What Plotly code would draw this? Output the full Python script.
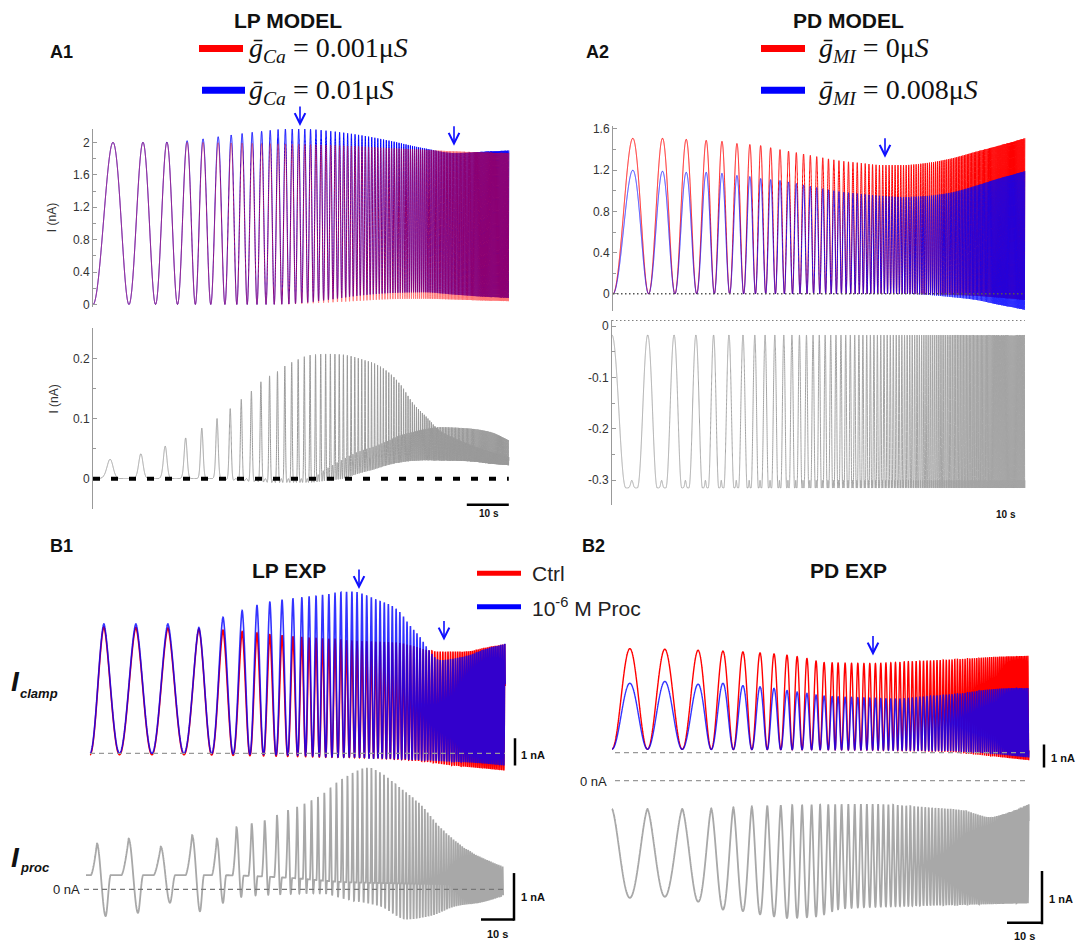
import numpy as np
import plotly.graph_objects as go

W, H = 1082, 945
SANS = "Arial, 'Liberation Sans', sans-serif"
SERIF = "'Liberation Serif', 'Times New Roman', 'DejaVu Serif', serif"

# ------------------------------------------------------------------
# Data
# ------------------------------------------------------------------
# Model stimulus (panels A1, A2): cumulative cycle count at knot times (s)
MODEL_T = [0, 4.76, 11.9, 17.6, 22.4, 26.2, 29.8, 32.9, 35.5, 42, 50, 58, 65, 72, 80, 90, 99]
MODEL_N = [0, 0.5, 1.5, 2.5, 3.5, 4.5, 5.5, 6.5, 7.5, 10.4, 15.2, 21.8, 29.7, 40.0, 56.0, 84.7, 122.5]
MODEL_DUR = 99.0

# A1 top: LP model clamp current (nA), peak / trough envelopes
A1_T = [0, 4.7, 17.6, 22.3, 29.8, 35.6, 40.6, 46.5, 50.1, 56.4, 63.6, 70.7, 78.6, 86.2, 94.5, 99]
A1_BLUE_PEAK = [2.0, 2.0, 2.005, 2.02, 2.07, 2.11, 2.14, 2.166, 2.166, 2.14, 2.09, 2.02, 1.93, 1.87, 1.89, 1.9]
A1_RED_PEAK = [2.0, 2.0, 2.0, 2.0, 1.995, 1.99, 1.985, 1.98, 1.975, 1.965, 1.95, 1.93, 1.91, 1.89, 1.875, 1.87]
A1_BLUE_TROUGH = [0, 0, 0, 0, 0, 0, 0, 0.005, 0.02, 0.06, 0.11, 0.14, 0.15, 0.12, 0.09, 0.08]
A1_RED_TROUGH = [0, 0, 0, 0, 0, 0, 0, 0.002, 0.01, 0.025, 0.045, 0.065, 0.07, 0.06, 0.045, 0.04]

# A1 bottom: difference current (nA)
A1B_T = [0, 3.65, 11.2, 17.1, 22.1, 26.1, 29.7, 32.9, 35.6, 38.2, 40.4, 42.7, 44.7, 46.3, 48.1,
         49.8, 51.7, 55.2, 59.2, 61.6, 64, 66.7, 69.9, 73.1, 76.3, 79.4, 82.6, 86.6, 90.5, 94.5, 99]
A1B_PEAK1 = [0.03, 0.032, 0.041, 0.054, 0.068, 0.085, 0.101, 0.118, 0.134, 0.149, 0.164, 0.174, 0.182, 0.191, 0.196,
             0.202, 0.206, 0.208, 0.207, 0.204, 0.199, 0.193, 0.18, 0.158, 0.125, 0.103, 0.08, 0.066, 0.055, 0.045, 0.036]
A1B_PEAK2 = [0, 0, 0, 0, 0, 0, 0, 0, 0, 0, 0, 0, 0, 0, 0,
             0, 0, 0.015, 0.031, 0.04, 0.047, 0.053, 0.062, 0.072, 0.078, 0.083, 0.086, 0.085, 0.083, 0.078, 0.064]
A1B_BASE = [0, 0, 0, 0, 0, 0, 0, -0.003, -0.005, -0.006, -0.007, -0.008, -0.008, -0.008, -0.008,
            -0.008, -0.008, -0.007, -0.005, 0, 0.005, 0.01, 0.017, 0.022, 0.025, 0.026, 0.026, 0.026, 0.025, 0.022, 0.02]

# A2 top: PD model clamp current (nA)
A2_T = [0, 4.4, 11.8, 17.5, 22.1, 26.1, 29.5, 32.6, 35.3, 37.7, 40.1, 44.2, 49.2, 54.8, 59.5, 64.6, 69.8,
        75.4, 80.9, 87.3, 92, 99]
A2_RED_PEAK = [1.51, 1.51, 1.51, 1.50, 1.49, 1.48, 1.46, 1.45, 1.44, 1.42, 1.40, 1.37, 1.33, 1.29, 1.27, 1.25, 1.25,
               1.27, 1.31, 1.38, 1.43, 1.51]
A2_BLUE_PEAK = [1.20, 1.20, 1.19, 1.18, 1.18, 1.17, 1.15, 1.14, 1.12, 1.11, 1.10, 1.07, 1.03, 0.99, 0.97, 0.95, 0.94,
                0.95, 0.98, 1.05, 1.11, 1.19]
A2_BLUE_TROUGH = [0, 0, 0, 0, 0, 0, 0, 0, 0, 0, 0, 0, 0, 0, 0, 0, 0,
                  -0.01, -0.03, -0.06, -0.10, -0.155]
A2_RED_TROUGH = [0, 0, 0, 0, 0, 0, 0, 0, 0, 0, 0, 0, 0, 0, 0, 0, 0,
                 -0.005, -0.01, -0.02, -0.035, -0.06]

# A2 bottom: difference current (nA)
A2B_TOP = -0.017
A2B_BOTTOM = -0.315
A2B_NOTCH = 0.05

# B1: LP experiment, chirp cycle count knots (s)
B1_T = [0, 4.2, 13.9, 23.6, 33.0, 40.3, 46.1, 50.6, 54.5, 58.2, 61.5, 64.2, 66.4, 68.5, 80, 95, 110, 126]
B1_N = [0, 0.5, 1.5, 2.5, 3.5, 4.5, 5.5, 6.5, 7.5, 8.5, 9.5, 10.5, 11.5, 12.5, 18.9, 30.5, 47.5, 74]
B1_DUR = 125.8
B1_ENV_T = [0, 4.2, 13.9, 23.7, 33.1, 40.4, 46, 54.5, 64.1, 70.7, 79.3, 86.9, 92.9, 97, 100, 102, 106, 113, 120.2, 125.8]
B1_BLUE_PEAK = [4.6, 4.73, 4.73, 4.73, 4.6, 4.98, 5.22, 5.54, 5.70, 5.79, 5.91, 5.62, 5.28, 4.67, 4.25, 3.89,
                3.41, 3.53, 3.83, 4.01]
B1_RED_PEAK = [4.5, 4.62, 4.6, 4.58, 4.55, 4.5, 4.45, 4.35, 4.25, 4.2, 4.12, 4.08, 4.05, 3.95, 3.85, 3.78,
               3.72, 3.72, 3.88, 4.0]
B1_BLUE_TROUGH = [0, 0, 0, 0, 0, -0.02, -0.03, -0.05, -0.08, -0.12, -0.15, -0.18, -0.2, -0.22, -0.24, -0.25,
                  -0.28, -0.32, -0.38, -0.45]
B1_RED_TROUGH = [-0.05, -0.05, -0.05, -0.05, -0.05, -0.07, -0.08, -0.1, -0.12, -0.14, -0.15, -0.18, -0.22,
                 -0.25, -0.28, -0.3, -0.38, -0.48, -0.56, -0.63]

# B1 bottom: procaine-sensitive current (nA)
B1P_DUR = 126.4
B1P_SHIFT = 0.4
B1P_PEAK_T = [0, 3.2, 13.1, 22.4, 32, 39.6, 45.7, 54.2, 61, 63.8, 70.9, 77.5, 85.6, 90.1, 94.1, 101.2, 107.3,
              114.3, 119.4, 126.4]
B1P_PEAK = [0.9, 0.965, 1.07, 0.90, 1.14, 1.07, 1.31, 1.45, 1.66, 1.73, 1.97, 2.32, 2.56, 2.42, 2.20, 1.80, 1.31,
            0.90, 0.69, 0.48]
B1P_TROUGH_T = [0, 6.1, 15.9, 25.5, 34.5, 41.6, 48.7, 60, 70.9, 79, 89, 97.2, 104.2, 112.3, 119.4, 126.4]
B1P_TROUGH = [-0.56, -0.56, -0.49, -0.28, -0.46, -0.28, -0.14, -0.1, -0.08, -0.21, -0.35, -0.63, -0.56, -0.35,
              -0.28, -0.14]
B1P_SHOULDER_T = [0, 40, 60, 80, 126.4]
B1P_SHOULDER = [0.3, 0.3, 0.25, 0.15, 0.1]

# B2: PD experiment, chirp cycle count knots (s)
B2_T = [0, 5.1, 15.1, 24.6, 31.7, 37.4, 42.3, 46.3, 50, 52.9, 55.7, 58.3, 60.6, 62.9, 64.6, 66.6, 80, 95, 110, 119.1]
B2_N = [0, 0.5, 1.5, 2.5, 3.5, 4.5, 5.5, 6.5, 7.5, 8.5, 9.5, 10.5, 11.5, 12.5, 13.5, 14.5, 22.75, 36.9, 59.1, 78.1]
B2_DUR = 119.1
B2_RED_PEAK_T = [0, 5.1, 24.5, 37.4, 49.9, 55.6, 60.6, 74.6, 86, 100, 110, 119.1]
B2_RED_PEAK = [4.5, 4.5, 4.43, 4.36, 4.22, 4.08, 3.9, 3.86, 3.95, 4.05, 4.15, 4.19]
B2_BLUE_PEAK_T = [0, 5.6, 15.1, 24.5, 31.8, 37.4, 42.3, 46.4, 49.9, 55.6, 60.6, 67, 74.7, 81.3, 90.9, 100.4,
                  107, 114.6, 119.1]
B2_BLUE_PEAK = [3.0, 3.0, 3.08, 2.96, 3.0, 2.9, 2.85, 2.78, 2.69, 2.57, 2.45, 2.4, 2.36, 2.32, 2.45, 2.57,
                2.72, 2.79, 2.79]
B2_TROUGH_T = [0, 60, 95, 105, 119.1]
B2_RED_TROUGH = [0.15, 0.12, 0.05, -0.1, -0.33]
B2_BLUE_TROUGH = [0.15, 0.12, 0.08, 0.0, -0.21]

# B2 bottom: procaine-sensitive current (nA)
B2P_PEAK_T = [0, 20, 50, 75, 90, 100, 108, 113, 119.1]
B2P_PEAK = [-0.53, -0.53, -0.46, -0.44, -0.5, -0.55, -0.68, -0.6, -0.44]
B2P_TROUGH_T = [0, 5, 15, 24.4, 31.6, 37.5, 42.3, 46.5, 50.3, 58.2, 66, 80, 100, 119.1]
B2P_TROUGH = [-2.2, -2.2, -2.18, -2.27, -2.42, -2.45, -2.51, -2.55, -2.58, -2.55, -2.4, -2.36, -2.33, -2.3]


# ------------------------------------------------------------------
def pchip(xk, yk, x):
    xk = np.asarray(xk, float)
    yk = np.asarray(yk, float)
    h = np.diff(xk)
    d = np.diff(yk) / h
    n = len(xk)
    m = np.zeros(n)
    for k in range(1, n - 1):
        if d[k - 1] * d[k] > 0:
            w1 = 2 * h[k] + h[k - 1]
            w2 = h[k] + 2 * h[k - 1]
            m[k] = (w1 + w2) / (w1 / d[k - 1] + w2 / d[k])
    m[0] = d[0]
    m[-1] = d[-1]
    idx = np.clip(np.searchsorted(xk, x, side="right") - 1, 0, n - 2)
    s = (x - xk[idx]) / h[idx]
    h00 = 2 * s**3 - 3 * s**2 + 1
    h10 = s**3 - 2 * s**2 + s
    h01 = -2 * s**3 + 3 * s**2
    h11 = s**3 - s**2
    return h00 * yk[idx] + h10 * h[idx] * m[idx] + h01 * yk[idx + 1] + h11 * h[idx] * m[idx + 1]


def smooth(a):
    a = np.clip(a, 0, 1)
    return a * a * (3 - 2 * a)


fig = go.Figure()

# panel geometry in pixels: (xdom0, xdom1, x_origin_px, px_per_s, ydom0, ydom1, y_zero_px, px_per_nA)
PANELS = {
    "A1T": (93, 512, 93, 4.2, 126, 306, 303, 81.7),
    "A1B": (93, 512, 93, 4.2, 327, 509, 478.7, 605),
    "A2T": (613, 1029, 613, 4.16, 123, 310, 292.3, 103.9),
    "A2B": (612, 1029, 612, 4.17, 319, 505, 325, 517.8),
    "B1C": (86, 522, 90, 3.3, 580, 780, 755.7, 27.6),
    "B1P": (80, 522, 86, 3.3, 760, 935, 893, 48),
    "B2C": (608, 1050, 612, 3.5, 600, 780, 755, 23.3),
    "B2P": (608, 1050, 612, 3.5, 775, 935, 783.3, 53.7),
}
AX = {}
layout_axes = {}
for i, (name, g) in enumerate(PANELS.items(), start=1):
    xd0, xd1, xo, xs, yd0, yd1, yz, ys = g
    xr = [(xd0 - xo) / xs, (xd1 - xo) / xs]
    yr = [(yz - yd1) / ys, (yz - yd0) / ys]
    xk = "xaxis" if i == 1 else f"xaxis{i}"
    yk = "yaxis" if i == 1 else f"yaxis{i}"
    xid = "x" if i == 1 else f"x{i}"
    yid = "y" if i == 1 else f"y{i}"
    layout_axes[xk] = dict(domain=[xd0 / W, xd1 / W], range=xr, visible=False, anchor=yid, fixedrange=True)
    layout_axes[yk] = dict(domain=[1 - yd1 / H, 1 - yd0 / H], range=yr, visible=False, anchor=xid,
                           fixedrange=True)
    AX[name] = (xid, yid)


def px2t(name, px):
    g = PANELS[name]
    return (px - g[2]) / g[3]


def py2v(name, py):
    g = PANELS[name]
    return (g[6] - py) / g[7]


def add_line(name, t, v, color, width=1.0, opacity=1.0):
    xid, yid = AX[name]
    fig.add_trace(go.Scatter(x=t, y=v, mode="lines", xaxis=xid, yaxis=yid, opacity=opacity,
                             line=dict(color=color, width=width, simplify=False), hoverinfo="skip"))


RED = "#ff0000"
BLUE = "#0000ff"
GRAY = "#9a9a9a"

# ---------------- A1 top ----------------
tA = np.linspace(0, MODEL_DUR, 15000)
NA = pchip(MODEL_T, MODEL_N, tA)
uA = (1 - np.cos(2 * np.pi * NA)) / 2
bl = pchip(A1_T, A1_BLUE_TROUGH, tA)
bh = pchip(A1_T, A1_BLUE_PEAK, tA)
rl = pchip(A1_T, A1_RED_TROUGH, tA)
rh = pchip(A1_T, A1_RED_PEAK, tA)
add_line("A1T", tA, bl + (bh - bl) * uA, BLUE, 1.0)
add_line("A1T", tA, rl + (rh - rl) * uA, RED, 1.0, opacity=0.55)

# ---------------- A1 bottom ----------------
p1 = pchip(A1B_T, A1B_PEAK1, tA)
p2 = pchip(A1B_T, A1B_PEAK2, tA)
b0 = pchip(A1B_T, A1B_BASE, tA)
g1 = np.exp(4.0 * (np.cos(2 * np.pi * (NA - 0.42)) - 1))
g2 = np.exp(2.0 * (np.cos(2 * np.pi * (NA - 0.92)) - 1))
vb = b0 + np.maximum((p1 - b0) * g1, (np.maximum(p2 - b0, 0)) * g2)
add_line("A1B", tA, vb, GRAY, 1.0)

# ---------------- A2 top ----------------
bl = pchip(A2_T, A2_BLUE_TROUGH, tA)
bh = pchip(A2_T, A2_BLUE_PEAK, tA)
rl = pchip(A2_T, A2_RED_TROUGH, tA)
rh = pchip(A2_T, A2_RED_PEAK, tA)
add_line("A2T", tA, rl + (rh - rl) * uA, RED, 1.0)
add_line("A2T", tA, bl + (bh - bl) * uA, BLUE, 1.0, opacity=0.85)

# ---------------- A2 bottom ----------------
ph = 2 * np.pi * NA
delta = np.mod(ph, 2 * np.pi) - np.pi
wA = np.sin(np.pi / 2 * np.minimum(1.0, 1.3 * uA)) - A2B_NOTCH * np.exp(-(delta / 0.3) ** 2)
add_line("A2B", tA, A2B_TOP + (A2B_BOTTOM - A2B_TOP) * wA, "#a4a4a4", 1.0)

# ---------------- B1 clamp ----------------
tB1 = np.linspace(0, B1_DUR, 10000)
NB1 = pchip(B1_T, B1_N, tB1)
uB1 = (1 - np.cos(2 * np.pi * NB1)) / 2
wB1 = 1 - (1 - uB1) ** 0.8
rl = pchip(B1_ENV_T, B1_RED_TROUGH, tB1)
rh = pchip(B1_ENV_T, B1_RED_PEAK, tB1)
bl = pchip(B1_ENV_T, B1_BLUE_TROUGH, tB1)
bh = pchip(B1_ENV_T, B1_BLUE_PEAK, tB1)
add_line("B1C", tB1, rl + (rh - rl) * wB1, RED, 1.6)
add_line("B1C", tB1, bl + (bh - bl) * wB1, BLUE, 1.6, opacity=0.8)

# ---------------- B1 proc ----------------
tP1 = np.linspace(0, B1P_DUR, 10000)
NP1 = pchip(B1_T, B1_N, tP1)
f = np.mod(NP1 - B1P_SHIFT, 1.0)
P = pchip(B1P_PEAK_T, B1P_PEAK, tP1)
T = pchip(B1P_TROUGH_T, B1P_TROUGH, tP1)
S = pchip(B1P_SHOULDER_T, B1P_SHOULDER, tP1)
vP1 = np.select(
    [f < 0.29, f < 0.45, f < 0.78],
    [P + (T - P) * smooth(f / 0.29), T + (S - T) * smooth((f - 0.29) / 0.16), S],
    S + (P - S) * ((f - 0.78) / 0.22) ** 1.5,
)
add_line("B1P", tP1, vP1, "#a8a8a8", 1.8)

# ---------------- B2 clamp ----------------
tB2 = np.linspace(0, B2_DUR, 10000)
NB2 = pchip(B2_T, B2_N, tB2)
uB2 = (1 - np.cos(2 * np.pi * NB2)) / 2
rl = pchip(B2_TROUGH_T, B2_RED_TROUGH, tB2)
bl = pchip(B2_TROUGH_T, B2_BLUE_TROUGH, tB2)
rh = pchip(B2_RED_PEAK_T, B2_RED_PEAK, tB2)
bh = pchip(B2_BLUE_PEAK_T, B2_BLUE_PEAK, tB2)
add_line("B2C", tB2, rl + (rh - rl) * uB2, RED, 1.4)
add_line("B2C", tB2, bl + (bh - bl) * uB2, BLUE, 1.4, opacity=0.8)

# ---------------- B2 proc ----------------
pk = pchip(B2P_PEAK_T, B2P_PEAK, tB2)
tr = pchip(B2P_TROUGH_T, B2P_TROUGH, tB2)
add_line("B2P", tB2, pk + (tr - pk) * uB2 ** 0.75, "#a8a8a8", 1.8)

# ------------------------------------------------------------------
# Shapes: baselines, scale bars, legend swatches
# ------------------------------------------------------------------
shapes = []


def hline_data(name, t0, t1, v, color, width, dash):
    xid, yid = AX[name]
    shapes.append(dict(type="line", xref=xid, yref=yid, x0=t0, x1=t1, y0=v, y1=v,
                       line=dict(color=color, width=width, dash=dash), layer="above"))


def pline(x0, y0, x1, y1, color, width, dash="solid"):
    shapes.append(dict(type="line", xref="paper", yref="paper", x0=x0 / W, x1=x1 / W,
                       y0=1 - y0 / H, y1=1 - y1 / H, line=dict(color=color, width=width, dash=dash)))


# baselines
hline_data("A1B", 0, MODEL_DUR, 0, "black", 4, "7px,11px")
hline_data("A2T", 0, MODEL_DUR, 0, "#555555", 1.5, "1.5px,2.5px")
hline_data("A2B", 0, MODEL_DUR, py2v("A2B", 319), "#555555", 1.5, "1.5px,2.5px")
hline_data("B1C", 0, B1_DUR, 0, "#999999", 1.2, "5px,4px")
hline_data("B1P", px2t("B1P", 84), px2t("B1P", 505), 0, "#777777", 1.2, "5px,4px")
hline_data("B2C", px2t("B2C", 615), px2t("B2C", 1028), 0, "#999999", 1.2, "5px,4px")
hline_data("B2P", px2t("B2P", 615), px2t("B2P", 1028), 0, "#999999", 1.2, "5px,4px")

# time scale bars (10 s)
hline_data("A1B", MODEL_DUR - 10, MODEL_DUR, py2v("A1B", 505), "black", 2.5, "solid")
hline_data("A2B", MODEL_DUR - 10, MODEL_DUR, py2v("A2B", 506.5), "black", 2.5, "solid")
hline_data("B1P", px2t("B1P", 514) - 10, px2t("B1P", 514), py2v("B1P", 923.3), "black", 2.5, "solid")
hline_data("B2P", px2t("B2P", 1042) - 10, px2t("B2P", 1042), py2v("B2P", 926.7), "black", 2.5, "solid")


# current scale bars (1 nA)
def vbar(name, xpx, ybot_px):
    xid, yid = AX[name]
    v0 = py2v(name, ybot_px)
    shapes.append(dict(type="line", xref="paper", yref=yid, x0=xpx / W, x1=xpx / W, y0=v0, y1=v0 + 1,
                       line=dict(color="black", width=2.5)))


vbar("B1C", 515, 768)
vbar("B1P", 514, 924.5)
vbar("B2C", 1044, 770)
vbar("B2P", 1042, 928)

# legend swatches
pline(199, 45, 243, 45, RED, 7)
pline(202, 87, 245, 87, BLUE, 7)
pline(761, 45, 805, 45, RED, 7)
pline(761, 87, 805, 87, BLUE, 7)
pline(477, 574, 521, 574, RED, 5)
pline(477, 608, 521, 608, BLUE, 5)

# ------------------------------------------------------------------
# Text
# ------------------------------------------------------------------
anns = []


def ann(text, x, y, size, color="#111111", family=SANS, xanchor="center", yanchor="middle", angle=0):
    anns.append(dict(text=text, x=x / W, y=1 - y / H, xref="paper", yref="paper", showarrow=False,
                     xanchor=xanchor, yanchor=yanchor, textangle=angle,
                     font=dict(size=size, color=color, family=family)))


ann("<b>LP MODEL</b>", 288, 17, 21)
ann("<b>PD MODEL</b>", 848, 17, 21)
ann("<b>A1</b>", 62, 48, 18)
ann("<b>A2</b>", 597, 48, 18)
ann("<b>B1</b>", 62, 547, 18)
ann("<b>B2</b>", 593, 547, 18)
ann("<b>LP EXP</b>", 289, 571, 21)
ann("<b>PD EXP</b>", 848, 571, 21)

ann("<i>ḡ</i><sub><i>Ca</i></sub> = 0.001μ<i>S</i>", 247, 46, 28, family=SERIF, xanchor="left")
ann("<i>ḡ</i><sub><i>Ca</i></sub> = 0.01μ<i>S</i>", 247, 88, 28, family=SERIF, xanchor="left")
ann("<i>ḡ</i><sub><i>MI</i></sub> = 0μ<i>S</i>", 817, 46, 28, family=SERIF, xanchor="left")
ann("<i>ḡ</i><sub><i>MI</i></sub> = 0.008μ<i>S</i>", 817, 88, 28, family=SERIF, xanchor="left")

ann("Ctrl", 530, 574, 21, color="#222222", xanchor="left")
ann("10<sup>-6</sup> M Proc", 530, 608, 21, color="#222222", xanchor="left")

ann("I (nA)", 52, 216, 12, color="#333333", angle=-90)
ann("I (nA)", 54, 399, 12, color="#333333", angle=-90)

# blue arrows (tip position in px)
for (x, y) in [(300, 123), (454, 143), (885, 155), (359, 590), (444, 642), (873, 657)]:
    anns.append(dict(text="", x=x / W, y=1 - y / H, xref="paper", yref="paper", showarrow=True,
                     ax=0, ay=-21, arrowhead=5, arrowsize=1.3, arrowwidth=1.6, arrowcolor="#1010ff"))

ann("<b><i>I</i></b>", 15, 683, 28)
ann("<b><i>clamp</i></b>", 18, 695, 13, xanchor="left")
ann("<b><i>I</i></b>", 15, 861, 28)
ann("<b><i>proc</i></b>", 18, 871, 13, xanchor="left")

ann("0 nA", 82, 893, 13, color="#222222", xanchor="right")
ann("0 nA", 609, 784, 13, color="#222222", xanchor="right")

ann("<b>10 s</b>", 489, 514, 10)
ann("<b>10 s</b>", 1006, 515, 10)
ann("<b>10 s</b>", 497, 938, 11)
ann("<b>10 s</b>", 1024, 940, 11)
ann("<b>1 nA</b>", 519, 757, 11, xanchor="left")
ann("<b>1 nA</b>", 519, 901, 11, xanchor="left")
ann("<b>1 nA</b>", 1049, 760, 11, xanchor="left")
ann("<b>1 nA</b>", 1047, 903, 11, xanchor="left")

# ------------------------------------------------------------------
# Visible y axes for model panels
# ------------------------------------------------------------------
tickfont = dict(size=12, color="#333333", family=SANS)
vis = dict(visible=True, showline=True, linecolor="#999999", linewidth=1, ticks="inside", ticklen=4,
           tickcolor="#999999", showgrid=False, zeroline=False, tickfont=tickfont)
layout_axes["yaxis"].update(vis, tickvals=[0, 0.4, 0.8, 1.2, 1.6, 2.0],
                            ticktext=["0", "0.4", "0.8", "1.2", "1.6", "2"],
                            minor=dict(ticks="inside", ticklen=3, tickcolor="#999999", dtick=0.2, tick0=0))
layout_axes["yaxis2"].update(vis, tickvals=[0, 0.1, 0.2], ticktext=["0", "0.1", "0.2"],
                             minor=dict(ticks="inside", ticklen=3, tickcolor="#999999", dtick=0.05, tick0=0))
layout_axes["yaxis3"].update(vis, tickvals=[0, 0.4, 0.8, 1.2, 1.6], ticktext=["0", "0.4", "0.8", "1.2", "1.6"],
                             minor=dict(ticks="inside", ticklen=3, tickcolor="#999999", dtick=0.2, tick0=0))
layout_axes["yaxis4"].update(vis, tickvals=[0, -0.1, -0.2, -0.3], ticktext=["0", "-0.1", "-0.2", "-0.3"],
                             minor=dict(ticks="inside", ticklen=3, tickcolor="#999999", dtick=0.05, tick0=0))

fig.update_layout(
    width=W, height=H, margin=dict(l=0, r=0, t=0, b=0),
    paper_bgcolor="white", plot_bgcolor="rgba(0,0,0,0)",
    showlegend=False, shapes=shapes, annotations=anns,
    font=dict(family=SANS),
    **layout_axes,
)

fig.write_html("out.html")
